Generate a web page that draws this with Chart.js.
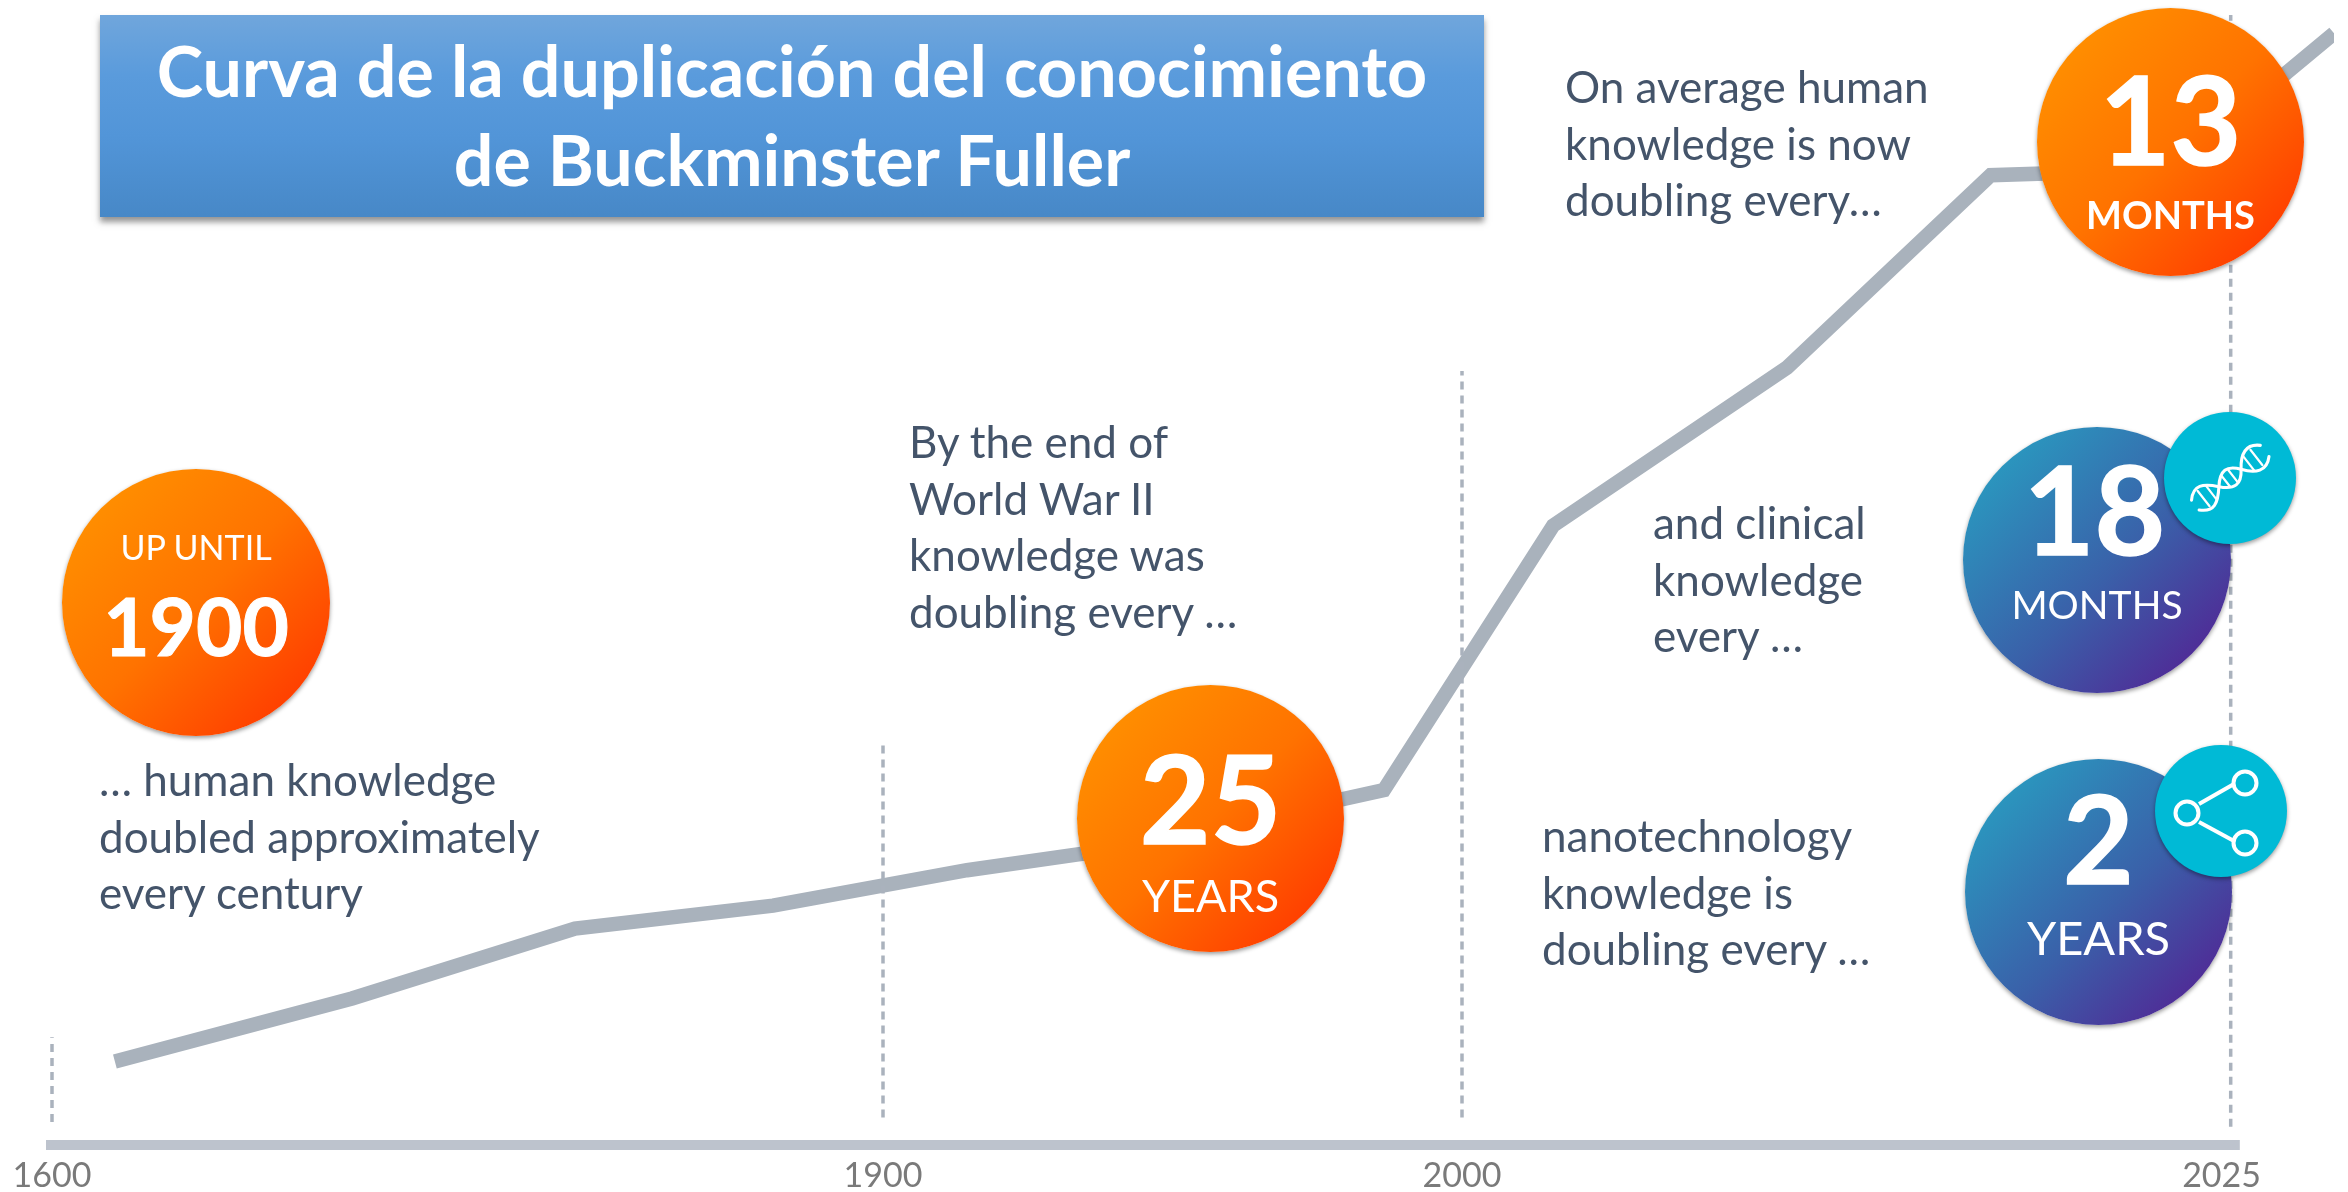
<!DOCTYPE html>
<html lang="es">
<head>
<meta charset="utf-8">
<title>Curva de la duplicación del conocimiento de Buckminster Fuller</title>
<script src="https://cdn.jsdelivr.net/npm/chart.js@4/dist/chart.umd.min.js"></script>
<style>
  html,body{margin:0;padding:0;background:#fff;overflow:hidden}
  #stage{position:relative;width:2348px;height:1192px;font-family:Lato,"Open Sans",sans-serif;overflow:hidden}
  canvas{position:absolute;left:0;top:0}
  #title{position:absolute;left:100px;top:15px;width:1384px;height:202px;color:#fff;font-weight:700;font-size:70px;line-height:89px;text-align:center;
    background:linear-gradient(180deg,#70a6dc 0%,#5a9bdc 30%,#5295d8 60%,#4788c7 100%);box-shadow:0 5px 6px rgba(60,60,60,.55);padding-top:11px;box-sizing:border-box}
  .note{position:absolute;color:#44546a;font-size:44px;line-height:56.5px;white-space:pre}
  .disc{position:absolute;border-radius:50%;color:#fff;box-shadow:0 2px 4px rgba(0,0,0,.4)}
  .orange{background:linear-gradient(135deg,#ff8f00 12%,#ff7300 50%,#ff3d00 88%)}
  .blue{background:linear-gradient(135deg,#2a98bf 12%,#3a60a9 55%,#502a96 88%)}
  .teal{background:#00bad6;box-shadow:0 2px 4px rgba(0,0,0,.4)}
  .disc span{position:absolute;left:-20px;right:-20px;text-align:center;line-height:1;white-space:pre}
  .big{font-weight:700;font-size:122px;-webkit-text-stroke:1.5px #fff}
  .unit{font-size:42px}
  .disc svg{position:absolute;left:0;top:0}
</style>
</head>
<body>
<div id="stage">
  <canvas id="chart" width="2348" height="1192"></canvas>
  <div id="title">Curva de la duplicación del conocimiento<br>de Buckminster Fuller</div>

  <div class="note" style="left:99px;top:751px">… human knowledge
doubled approximately
every century</div>
  <div class="note" style="left:909px;top:413px">By the end of
World War II
knowledge was
doubling every …</div>
  <div class="note" style="left:1565px;top:58px">On average human
knowledge is now
doubling every…</div>
  <div class="note" style="left:1653px;top:494px">and clinical
knowledge
every …</div>
  <div class="note" style="left:1542px;top:807px">nanotechnology
knowledge is
doubling every …</div>

  <div class="disc orange" style="left:62px;top:469px;width:268px;height:267px">
    <span style="top:61px;font-size:34px">UP UNTIL</span>
    <span style="top:116px;font-size:80px;font-weight:700;-webkit-text-stroke:1px #fff">1900</span>
  </div>
  <div class="disc orange" style="left:1077px;top:685px;width:267px;height:267px">
    <span class="big" style="top:51px">25</span>
    <span class="unit" style="top:188px;font-size:45px">YEARS</span>
  </div>
  <div class="disc orange" style="left:2037px;top:8px;width:267px;height:268px">
    <span class="big" style="top:49px">13</span>
    <span class="unit" style="top:187px;font-size:38px;font-weight:700">MONTHS</span>
  </div>
  <div class="disc blue" style="left:1963px;top:427px;width:268px;height:266px">
    <span class="big" style="top:20px;left:-25px">18</span>
    <span class="unit" style="top:158px;font-size:39px">MONTHS</span>
  </div>
  <div class="disc teal" style="left:2164px;top:412px;width:132px;height:132px">
    <svg width="132" height="132" viewBox="-66 -66 132 132" fill="none" stroke="#fff" stroke-width="3.5" stroke-linecap="round">
      <g transform="rotate(-38) scale(.88)">
        <path d="M-50,-7 C-38,-20 -28,-14 -16,0 S6,14 16,0 S38,-20 50,-8"/>
        <path d="M-50,7 C-38,20 -28,14 -16,0 S6,-14 16,0 S38,20 50,8"/>
        <path d="M-38,-11V11M-27,-10V10M-6,-8V8M4,-8V8M27,-10V10M38,-11V11" stroke-width="2.5"/>
      </g>
    </svg>
  </div>
  <div class="disc blue" style="left:1965px;top:759px;width:267px;height:266px">
    <span class="big" style="top:17px">2</span>
    <span class="unit" style="top:155px;font-size:47px">YEARS</span>
  </div>
  <div class="disc teal" style="left:2155px;top:745px;width:132px;height:132px">
    <svg width="132" height="132" viewBox="0 0 132 132" fill="none" stroke="#fff" stroke-width="4">
      <line x1="44" y1="59" x2="79" y2="39"/>
      <line x1="44" y1="77" x2="79" y2="96"/>
      <circle cx="32" cy="68" r="11.5"/>
      <circle cx="90" cy="38" r="11.5"/>
      <circle cx="90" cy="98" r="11.5"/>
    </svg>
  </div>
</div>

<script>
// Timeline ticks (the axis is not uniform in time)
const tickYears = [1600, 1900, 2000, 2025];

// Knowledge curve (relative 0-100 scale, no printed values)
const curveYears = [1622.7, 1708.3, 1788.8, 1860.3, 1914.5, 1940.9, 1986.5, 2003.0, 2010.7, 2017.4, 2023.3, 2028.7];
const curveKnowledge = [7.3, 12.8, 18.9, 20.9, 24.0, 25.9, 31.0, 54.1, 67.9, 84.7, 85.2, 97.1];

// Dotted era markers: year and height on the same relative scale
const markerYears = [1600, 1900, 2000, 2025.3];
const markerTop = [9.4, 35.0, 67.6, 98.7];
const markerBottom = [2.0, 2.4, 2.4, 1.6];

// Axis bar span in years
const axisBarYears = [1597.8, 2025.6];

// Non-uniform scale stops: year -> share of the plot width
const stopYears = [1597.8, 1600, 1900, 2000, 2028.7];
const stopShares = [0, 6 / 2288, 837 / 2288, 1416 / 2288, 1];

class TimelineScale extends Chart.LinearScale {
  static id = 'timeline';
  static defaults = Chart.LinearScale.defaults;
  buildTicks() { return tickYears.map(v => ({ value: v })); }
  configure() {
    super.configure();
    this.min = stopYears[0];
    this.max = stopYears[stopYears.length - 1];
  }
  getPixelForValue(v) {
    let i = 0;
    while (i < stopYears.length - 2 && v > stopYears[i + 1]) i++;
    const t = (v - stopYears[i]) / (stopYears[i + 1] - stopYears[i]);
    const share = stopShares[i] + t * (stopShares[i + 1] - stopShares[i]);
    return this.left + share * this.width;
  }
  getValueForPixel(p) {
    const share = (p - this.left) / this.width;
    let i = 0;
    while (i < stopShares.length - 2 && share > stopShares[i + 1]) i++;
    const t = (share - stopShares[i]) / (stopShares[i + 1] - stopShares[i]);
    return stopYears[i] + t * (stopYears[i + 1] - stopYears[i]);
  }
}
Chart.register(TimelineScale);

const xy = (xs, ys) => xs.map((x, i) => ({ x, y: ys[i] }));

const markerSets = markerYears.map((yr, i) => ({
  label: 'Marker ' + yr,
  data: xy([yr, yr], [markerBottom[i], markerTop[i]]),
  borderColor: '#aab2bd',
  borderWidth: 3.5,
  borderDash: [8, 6],
  pointRadius: 0,
  clip: false
}));

new Chart(document.getElementById('chart'), {
  type: 'scatter',
  data: {
    datasets: [
      ...markerSets,
      {
        label: 'Axis',
        data: xy(axisBarYears, [0, 0]),
        borderColor: '#bdc3cd',
        borderWidth: 10,
        borderCapStyle: 'butt',
        pointRadius: 0,
        clip: false
      },
      {
        label: 'Conocimiento',
        data: xy(curveYears, curveKnowledge),
        borderColor: '#a9b2bc',
        borderWidth: 14.5,
        borderCapStyle: 'butt',
        borderJoinStyle: 'miter',
        tension: 0,
        pointRadius: 0
      }
    ].map(d => ({ showLine: true, ...d }))
  },
  options: {
    responsive: false,
    animation: false,
    devicePixelRatio: 1,
    layout: { padding: { left: 46, right: 14, top: 0, bottom: 0 } },
    plugins: { legend: { display: false }, title: { display: false }, tooltip: { enabled: false } },
    scales: {
      x: {
        type: 'timeline',
        min: stopYears[0],
        max: stopYears[stopYears.length - 1],
        grid: { display: false, drawTicks: false },
        border: { display: false },
        afterFit: s => { s.height = 47; },
        ticks: {
          autoSkip: false,
          maxRotation: 0,
          minRotation: 0,
          padding: 11,
          color: '#7a7a7a',
          font: { family: 'Lato', size: 34 },
          callback: v => String(v)
        }
      },
      y: { display: false, min: 0, max: 100 }
    }
  }
});
</script>
</body>
</html>
